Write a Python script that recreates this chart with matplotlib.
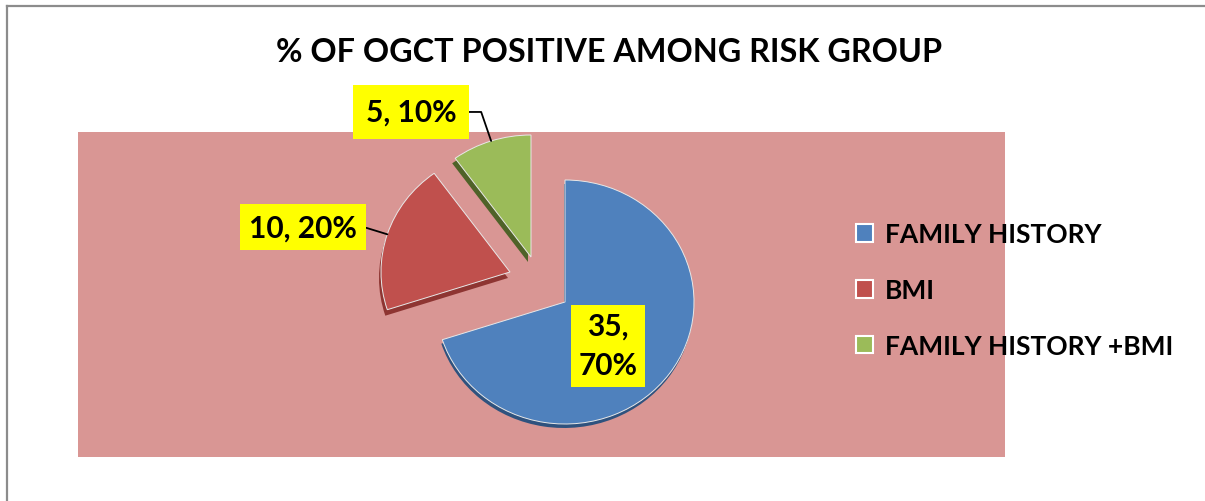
import numpy as np
import matplotlib
matplotlib.use("Agg")
import matplotlib.pyplot as plt
from matplotlib.patches import Wedge, Patch
from matplotlib.lines import Line2D

plt.rcParams['font.family'] = ['Lato', 'DejaVu Sans']
plt.rcParams['font.weight'] = 'bold'

# data
groups = ['FAMILY HISTORY', 'BMI', 'FAMILY HISTORY +BMI']
counts = [35, 10, 5]
percents = [70, 20, 10]
colors = ['#4F81BD', '#C0504D', '#9BBB59']
side_colors = ['#2F527E', '#8E3532', '#4F6228']
title = '% OF OGCT POSITIVE AMONG RISK GROUP'

W, H = 1205, 502
fig = plt.figure(figsize=(W / 100, H / 100), dpi=100)
fig.patch.set_facecolor('white')

# chart border (only top and left visible)
fig.add_artist(Line2D([7 / W, 1], [1 - 6.5 / H, 1 - 6.5 / H], color='#8C8C8C', lw=1.6,
                      transform=fig.transFigure))
fig.add_artist(Line2D([6.5 / W, 6.5 / W], [0, 1 - 6.5 / H], color='#8C8C8C', lw=1.6,
                      transform=fig.transFigure))

# plot area in pixels
px_l, px_r, px_t, px_b = 78, 1005, 133, 458
ax = fig.add_axes([px_l / W, 1 - px_b / H, (px_r - px_l) / W, (px_b - px_t) / H])

Sx, Sy = 129.0, 122.0  # pixels per unit radius (slight tilt, like Excel 3D pie)
cx, cy = 565, 303  # pie centre in pixels
# exploded slice offsets (pixels, x right / y up)
slice_shift = [(0, 0), (-55, 30), (-34, 45)]
side_shift = [(-1, -4), (-2, -6), (-3, -5)]

wedges, _ = ax.pie(counts, colors=colors, startangle=90, counterclock=False,
                   radius=1.0, center=(0, 0), frame=True,
                   wedgeprops=dict(edgecolor='#E8E8E8', linewidth=0.7))
for w, (sx, sy) in zip(wedges, slice_shift):
    w.set_center((sx / Sx, sy / Sy))
    w.set_clip_on(False)

ax.set_facecolor('#D99694')
for s in ax.spines.values():
    s.set_visible(False)
ax.set_xlim(-(cx - px_l) / Sx, (px_r - cx) / Sx)
ax.set_ylim(-(px_b - cy) / Sy, (cy - px_t) / Sy)
ax.set_aspect('auto')
ax.set_xticks([])
ax.set_yticks([])

# thin "3D" side under each slice
for w, sc, (dx, dy) in zip(wedges, side_colors, side_shift):
    c = w.center
    sh = Wedge((c[0] + dx / Sx, c[1] + dy / Sy), w.r, w.theta1, w.theta2,
               facecolor=sc, edgecolor='none', zorder=w.get_zorder() - 0.1)
    sh.set_clip_on(False)
    ax.add_patch(sh)

# label inside blue slice
w = wedges[0]
mid = np.deg2rad(-47)
ax.text(w.center[0] + 0.49 * np.cos(mid), w.center[1] + 0.49 * np.sin(mid),
        f'{counts[0]},\n{percents[0]}%', ha='center', va='center', fontsize=21.5,
        fontweight='bold', linespacing=1.5, bbox=dict(boxstyle='square,pad=0.25',
                                                    facecolor='#FFFF00', edgecolor='none'),
        zorder=5)

# outside labels with leader lines
offsets = {1: (-84, 7), 2: (-80, 29)}
pads = {1: 0.3, 2: 0.42}
for i, (dx, dy) in offsets.items():
    w = wedges[i]
    m = 0.5 * (w.theta1 + w.theta2)
    mr = np.deg2rad(m)
    xy = (w.center[0] + w.r * np.cos(mr), w.center[1] + w.r * np.sin(mr))
    disp_angle = np.degrees(np.arctan2(Sy * np.sin(mr), Sx * np.cos(mr)))
    ax.annotate(f'{counts[i]}, {percents[i]}%', xy=xy, xytext=(dx, dy),
                textcoords='offset pixels', ha='center', va='center',
                fontsize=21.5, fontweight='bold', zorder=5,
                bbox=dict(boxstyle=f'square,pad={pads[i]}', facecolor='#FFFF00',
                          edgecolor='none'),
                annotation_clip=False,
                arrowprops=dict(arrowstyle='-', color='black', lw=1.3,
                                shrinkA=0, shrinkB=0,
                                connectionstyle=f'angle,angleA=0,angleB={disp_angle},rad=0'))

fig.text(609 / W, 1 - 52 / H, title, ha='center', va='center', fontsize=23.3,
         fontweight='bold')

handles = [Patch(facecolor=c, edgecolor='white', linewidth=1.5) for c in colors]
fig.legend(handles, groups, loc='center left', bbox_to_anchor=(856 / W, 1 - 291 / H),
           bbox_transform=fig.transFigure, frameon=False,
           handlelength=0.65, handleheight=0.65, handletextpad=0.45,
           labelspacing=1.2, borderpad=0, borderaxespad=0,
           prop=dict(weight='bold', size=19))

fig.savefig('out.png', dpi=100, facecolor='white')
